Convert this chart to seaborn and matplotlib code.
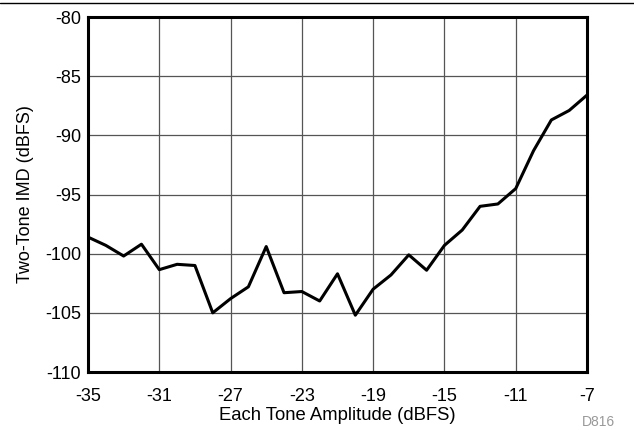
import matplotlib
matplotlib.use("Agg")
import matplotlib.pyplot as plt
import seaborn as sns
import pandas as pd

# Two-tone IMD versus amplitude of each tone
amplitude_dbfs = [-35, -34, -33, -32, -31, -30, -29, -28, -27, -26, -25, -24, -23, -22,
                  -21, -20, -19, -18, -17, -16, -15, -14, -13, -12, -11, -10, -9, -8, -7]
imd_dbfs = [-98.6, -99.3, -100.2, -99.2, -101.35, -100.9, -101.0, -105.0, -103.8, -102.8,
            -99.4, -103.3, -103.2, -104.0, -101.7, -105.2, -103.0, -101.8, -100.1, -101.4,
            -99.3, -98.0, -96.0, -95.8, -94.5, -91.3, -88.7, -87.9, -86.6]
x_ticks = [-35, -31, -27, -23, -19, -15, -11, -7]
y_ticks = [-110, -105, -100, -95, -90, -85, -80]

df = pd.DataFrame({"amp": amplitude_dbfs, "imd": imd_dbfs})

sns.set_theme(style="white")
plt.rcParams["font.family"] = ["Liberation Sans", "DejaVu Sans"]

fig = plt.figure(figsize=(6.34, 4.30), dpi=100)
ax = fig.add_axes([88 / 634, 1 - 372 / 430, (587 - 88) / 634, (372 - 17) / 430])

sns.lineplot(data=df, x="amp", y="imd", ax=ax, color="black", linewidth=2.2)

ax.set_xlim(-35, -7)
ax.set_ylim(-110, -80)
ax.set_xticks(x_ticks)
ax.set_yticks(y_ticks)
ax.set_xticklabels([str(v) for v in x_ticks])
ax.set_yticklabels([str(v) for v in y_ticks])
ax.grid(True, color="#555555", linewidth=0.9)
ax.set_axisbelow(True)
ax.tick_params(axis="x", length=0, labelsize=13, colors="black", pad=11.5)
ax.tick_params(axis="y", length=0, labelsize=13, colors="black", pad=5)

for side in ax.spines.values():
    side.set_color("black")
    side.set_linewidth(2.2)

ax.set_xlabel("Each Tone Amplitude (dBFS)", fontsize=13.3, color="black", labelpad=1.5)
ax.set_ylabel("Two-Tone IMD (dBFS)", fontsize=13, color="black", labelpad=8)

# rule across the top of the page and figure id
fig.add_artist(plt.Line2D([0, 1], [1 - 2.5 / 430, 1 - 2.5 / 430], color="black", linewidth=1.0))
fig.text(598 / 634, 1 - 422 / 430, "D816", fontsize=10, color="#999999", ha="center", va="center")

fig.savefig("out.png", dpi=100)
